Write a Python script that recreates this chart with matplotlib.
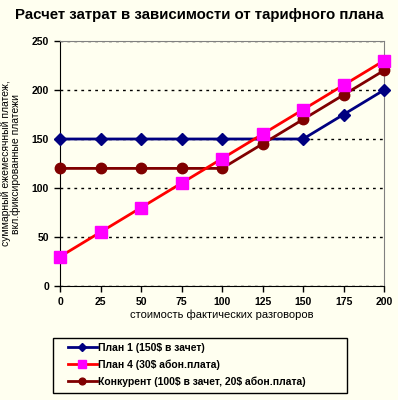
import matplotlib
matplotlib.use("Agg")
import matplotlib.pyplot as plt
from matplotlib.patches import Rectangle

plt.rcParams['font.family'] = ['Liberation Sans', 'DejaVu Sans']
plt.rcParams['text.parse_math'] = False

# стоимость фактических разговоров
x = [0, 25, 50, 75, 100, 125, 150, 175, 200]
plan1 = [150, 150, 150, 150, 150, 150, 150, 175, 200]
plan4 = [30, 55, 80, 105, 130, 155, 180, 205, 230]
konk = [120, 120, 120, 120, 120, 145, 170, 195, 220]

bg = "#FFFFF0"
W, H = 398, 400
fig = plt.figure(figsize=(3.98, 4.0), dpi=100, facecolor=bg)
ax = fig.add_axes([0.151, 0.285, 0.814, 0.6125], facecolor=bg)

ax.plot(x, plan1, color="#000080", lw=2, marker="D", ms=6,
        mfc="#000080", mec="#000080", label="План 1 (150$ в зачет)", clip_on=False, zorder=3)
ax.plot(x, konk, color="#800000", lw=2, marker="o", ms=7.5,
        mfc="#800000", mec="#800000", label="Конкурент (100$ в зачет, 20$ абон.плата)", clip_on=False, zorder=3)
ax.plot(x, plan4, color="#FF0000", lw=2, marker="s", ms=8,
        mfc="#FF00FF", mec="#FF00FF", label="План 4 (30$ абон.плата)", clip_on=False, zorder=4)

ax.set_xlim(0, 200)
ax.set_ylim(0, 250)
ax.set_xticks(x)
ax.set_yticks([0, 50, 100, 150, 200, 250])
for lab in ax.get_xticklabels() + ax.get_yticklabels():
    lab.set_fontweight("bold")
    lab.set_fontsize(7.5)
ax.tick_params(direction="out", length=4, width=1, pad=4)

ax.yaxis.grid(True, color="black", linestyle=(0, (2, 3)), linewidth=1)
ax.set_axisbelow(True)

ax.spines["top"].set_color("#808080")
ax.spines["right"].set_color("#808080")
ax.spines["left"].set_color("black")
ax.spines["bottom"].set_color("black")

ax.set_xlabel("стоимость фактических разговоров", fontsize=8, labelpad=2)
ax.set_ylabel("суммарный ежемесячный платеж,\nвкл.фиксированные платежи", fontsize=7.5,
              linespacing=1.0)
ax.yaxis.set_label_coords(-(60 - 21) / 324, 0.5)

fig.text(0.5, 0.962, "Расчет затрат в зависимости от тарифного плана",
         ha="center", va="center", fontsize=10.8, fontweight="bold")

# рамка легенды
fig.patches.append(Rectangle((53 / W, 1 - 393 / H), (347 - 53) / W, (393 - 338) / H,
                             transform=fig.transFigure, fill=False,
                             edgecolor="black", linewidth=1))

h, l = ax.get_legend_handles_labels()
order = [0, 2, 1]
leg = fig.legend([h[i] for i in order], [l[i] for i in order],
                 loc="upper left", bbox_to_anchor=(59 / W, 1 - 334 / H),
                 prop={"weight": "bold", "size": 7.5}, frameon=False,
                 handlelength=2.8, handletextpad=0.1, borderpad=0.35, labelspacing=0.62,
                 markerscale=0.65)

fig.savefig("out.png", dpi=100, facecolor=bg)
